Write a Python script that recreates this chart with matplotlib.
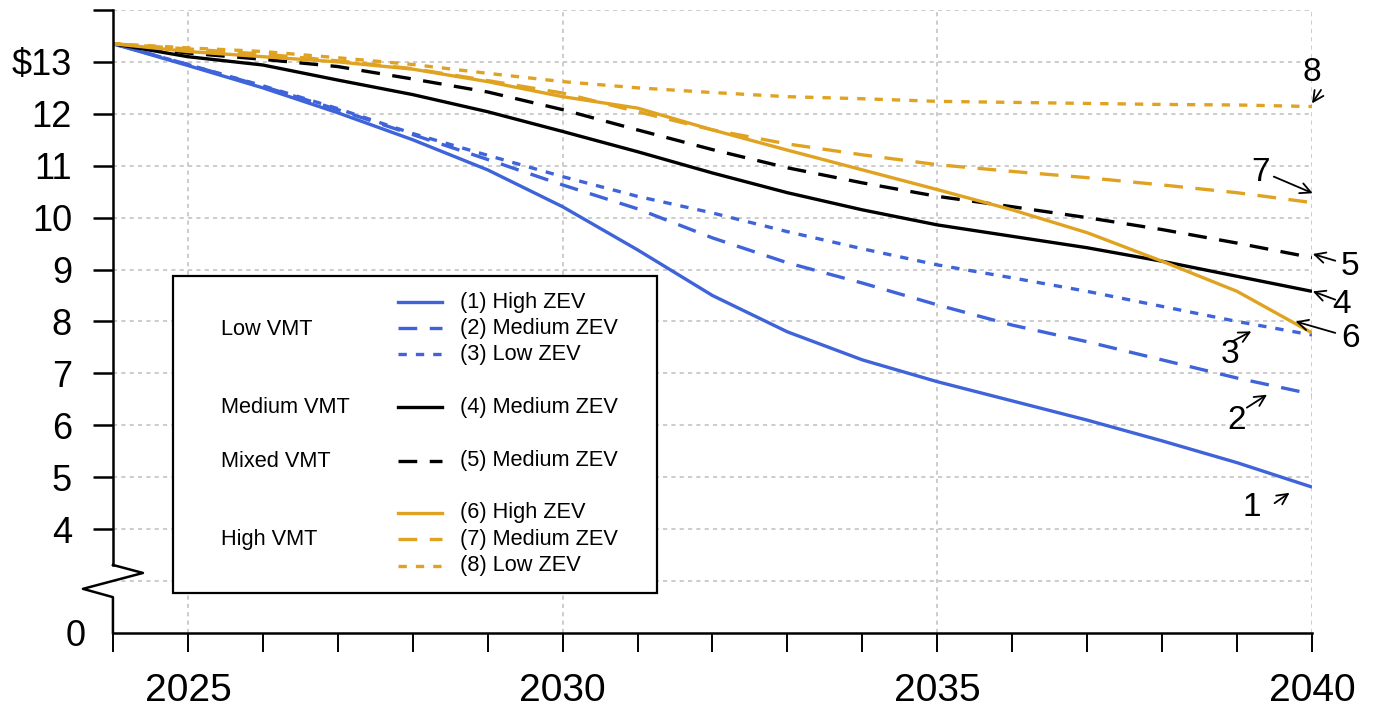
import numpy as np
import matplotlib
matplotlib.use("Agg")
import matplotlib.pyplot as plt
from matplotlib.patches import Rectangle
from matplotlib.lines import Line2D

plt.rcParams['font.family'] = ['Liberation Sans', 'DejaVu Sans']
plt.rcParams['lines.scale_dashes'] = False

# data: cost per ... by year, 8 scenarios
years = np.arange(2024, 2041)
low_high = [13.35, 12.93, 12.5, 12.02, 11.5, 10.92, 10.21, 9.38, 8.5, 7.8, 7.26, 6.84, 6.47, 6.1, 5.7, 5.28, 4.81]
low_med = [13.35, 12.95, 12.53, 12.08, 11.6, 11.12, 10.63, 10.17, 9.61, 9.13, 8.74, 8.32, 7.93, 7.61, 7.26, 6.91, 6.6]
low_low = [13.35, 12.95, 12.54, 12.1, 11.62, 11.2, 10.79, 10.41, 10.09, 9.73, 9.4, 9.09, 8.84, 8.58, 8.29, 8.0, 7.74]
medvmt_med = [13.35, 13.1, 12.94, 12.65, 12.37, 12.04, 11.66, 11.27, 10.86, 10.48, 10.15, 9.86, 9.64, 9.42, 9.16, 8.87, 8.58]
mixed_med = [13.35, 13.17, 13.05, 12.91, 12.67, 12.42, 12.08, 11.69, 11.31, 10.96, 10.67, 10.41, 10.21, 10.0, 9.77, 9.51, 9.23]
high_high = [13.35, 13.2, 13.1, 13.0, 12.86, 12.62, 12.33, 12.11, 11.69, 11.3, 10.92, 10.54, 10.15, 9.71, 9.16, 8.58, 7.78]
high_med = [13.35, 13.25, 13.15, 13.02, 12.87, 12.64, 12.4, 12.04, 11.69, 11.42, 11.21, 11.02, 10.89, 10.77, 10.63, 10.48, 10.29]
high_low = [13.35, 13.27, 13.2, 13.08, 12.95, 12.78, 12.62, 12.5, 12.41, 12.33, 12.29, 12.24, 12.22, 12.2, 12.18, 12.17, 12.14]

series = [low_high, low_med, low_low, medvmt_med, mixed_med, high_high, high_med, high_low]
item_labels = ["(1) High ZEV", "(2) Medium ZEV", "(3) Low ZEV", "(4) Medium ZEV",
               "(5) Medium ZEV", "(6) High ZEV", "(7) Medium ZEV", "(8) Low ZEV"]
group_labels = ["Low VMT", "Medium VMT", "Mixed VMT", "High VMT"]
ytick_vals = list(range(4, 15))
ytick_labels = [str(v) for v in range(4, 13)] + ["$13", ""]

blue = "#3f63d8"
gold = "#e0a321"
SOLID = None
DASH = (13.5, 9)
DOT = (6, 6.5)
styles = [(blue, SOLID), (blue, DASH), (blue, DOT), ("black", SOLID),
          ("black", DASH), (gold, SOLID), (gold, DASH), (gold, DOT)]

fig = plt.figure(figsize=(13.74, 7.07), dpi=100)
ax = fig.add_axes([0.0822, 0.1047, 0.9549 - 0.0822, 0.9859 - 0.1047])

# y value 2 stands for 0 (broken axis)
ax.set_xlim(2024, 2040)
ax.set_ylim(2, 14)

# grid
for g in range(3, 15):
    ax.axhline(g, color="#c4c4c4", lw=1.2, ls=(0, (3, 3)), zorder=0)
for g in [2025, 2030, 2035, 2040]:
    ax.axvline(g, color="#c4c4c4", lw=1.2, ls=(0, (3, 3)), zorder=0)

for s, (c, d) in zip(series, styles):
    line, = ax.plot(years, s, color=c, lw=2.4, solid_capstyle="butt")
    if d is not None:
        line.set_dashes(d)
        line.set_dash_capstyle("butt")

# spines / ticks
for side in ["top", "right", "left"]:
    ax.spines[side].set_visible(False)
ax.spines["bottom"].set_linewidth(1.8)

ax.set_yticks(ytick_vals)
ax.set_yticklabels(ytick_labels, fontsize=26)
ax.set_yticks([2], minor=True)
ax.set_yticklabels(["0"], minor=True, fontsize=26)
ax.tick_params(axis="y", which="major", length=14.5, width=1.8, pad=15)
ax.tick_params(axis="y", which="minor", length=0, pad=20)

ax.set_xticks([2025, 2030, 2035, 2040])
ax.set_xticklabels(["2025", "2030", "2035", "2040"], fontsize=28)
ax.set_xticks(years, minor=True)
ax.tick_params(axis="x", which="both", length=14, width=1.4, pad=15)

# left axis with break zigzag
ax.plot([2024, 2024], [14, 3.31], color="black", lw=1.8, clip_on=False, zorder=5)
ax.plot([2024, 2024.4, 2023.6, 2024, 2024], [3.31, 3.156, 2.85, 2.69, 2.0],
        color="black", lw=1.8, clip_on=False, zorder=5)

# legend drawn by hand (axes fraction)
at = ax.transAxes
ax.add_patch(Rectangle((0.0503, 0.0647), 0.4036, 0.5088, transform=at,
                       facecolor="white", edgecolor="black", lw=1.6, zorder=6))
row_y = [0.5308, 0.4891, 0.4474, 0.3623, 0.2766, 0.1931, 0.1504, 0.1080]
group_y = [0.4864, 0.3612, 0.2750, 0.1493]
for yy, lab, (c, d) in zip(row_y, item_labels, styles):
    ln = Line2D([0.2380, 0.2741], [yy, yy], transform=at, color=c, lw=2.4, zorder=7)
    if d is not None:
        ln.set_dashes(d)
    ax.add_line(ln)
    ax.text(0.2894, yy, lab, transform=at, fontsize=15.7, va="center", ha="left", zorder=7)
for yy, lab in zip(group_y, group_labels):
    ax.text(0.0898, yy, lab, transform=at, fontsize=15.7, va="center", ha="left", zorder=7)

# end labels with arrows
notes = [("1", (2039.19, 4.41), (2039.50, 4.50), (2039.70, 4.70)),
         ("2", (2038.99, 6.10), (2039.13, 6.34), (2039.40, 6.59)),
         ("3", (2038.90, 7.36), (2038.93, 7.61), (2039.19, 7.81)),
         ("4", (2040.40, 8.32), (2040.31, 8.42), (2040.01, 8.58)),
         ("5", (2040.51, 9.06), (2040.31, 9.17), (2040.01, 9.30)),
         ("6", (2040.51, 7.68), (2040.31, 7.78), (2039.78, 8.00)),
         ("7", (2039.31, 10.86), (2039.49, 10.79), (2040.01, 10.47)),
         ("8", (2040.00, 12.79), (2040.12, 12.46), (2040.00, 12.20))]
for lab, tpos, a0, a1 in notes:
    ax.text(tpos[0], tpos[1], lab, fontsize=24, ha="center", va="center", clip_on=False)
    ax.annotate("", xy=a1, xytext=a0, annotation_clip=False,
                arrowprops=dict(arrowstyle="->", lw=1.3, color="black",
                                shrinkA=0, shrinkB=0, mutation_scale=19))

fig.savefig("out.png", dpi=100)
